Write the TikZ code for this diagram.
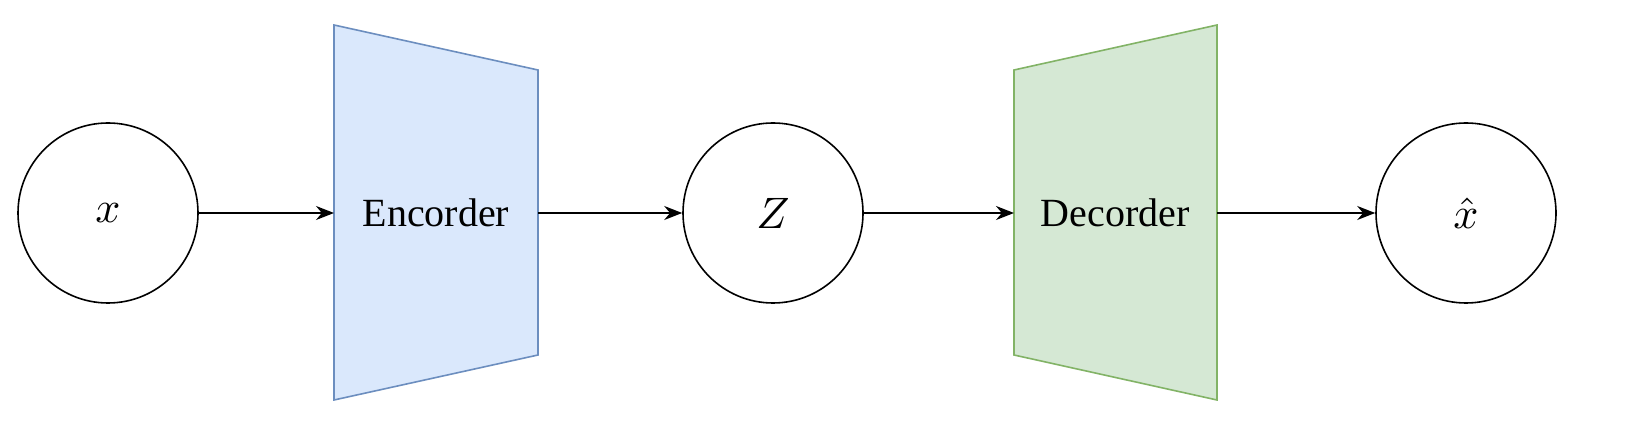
\documentclass[tikz,border=0pt]{standalone}
\usepackage{fontspec}
\setmainfont{Liberation Serif}
\usetikzlibrary{arrows.meta}
\definecolor{encfill}{HTML}{DAE8FC}\definecolor{encdraw}{HTML}{6C8EBF}
\definecolor{decfill}{HTML}{D5E8D4}\definecolor{decdraw}{HTML}{82B366}
\begin{document}
\begin{tikzpicture}[x=0.5pt,y=-0.5pt,
  var/.style={draw,circle,line width=0.8pt,minimum size=90pt,inner sep=0pt},
  mathlbl/.style={scale=2.2,transform shape=false},
  conn/.style={-{Stealth[length=9pt,width=7pt]},line width=0.8pt},
  lbl/.style={font=\fontsize{20}{24}\selectfont}]
\useasboundingbox (0,0) rectangle (1631,437);
\node[var] (x) at (108,213) {};
\node[var] (z) at (773,213) {};
\node[var] (xh) at (1466,213) {};
\node[mathlbl] (xt) at (x) {$x$};
\node[mathlbl] (zt) at (z) {$Z$};
\node[mathlbl] (xht) at (xh) {$\hat{x}$};
\draw[fill=encfill,draw=encdraw,line width=0.8pt] (334,25) -- (538,70) -- (538,355) -- (334,400) -- cycle;
\draw[fill=decfill,draw=decdraw,line width=0.8pt] (1014,70) -- (1217,25) -- (1217,400) -- (1014,355) -- cycle;
\node[lbl] (enc) at (436,213) {Encorder};
\node[lbl] (dec) at (1115,213) {Decorder};
\coordinate (encL) at (334,213);\coordinate (encR) at (538,213);
\coordinate (decL) at (1014,213);\coordinate (decR) at (1217,213);
\draw[conn] (x) -- (encL);
\draw[conn] (encR) -- (z);
\draw[conn] (z) -- (decL);
\draw[conn] (decR) -- (xh);
\end{tikzpicture}
\end{document}
